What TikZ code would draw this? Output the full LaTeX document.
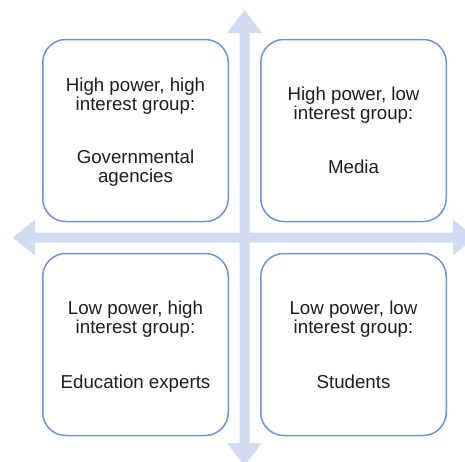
\documentclass[tikz,border=0pt]{standalone}
\usepackage{fontspec}
\setmainfont{Liberation Sans}
\definecolor{axisblue}{RGB}{208,220,239}
\definecolor{boxblue}{RGB}{112,146,220}
\definecolor{txt}{RGB}{30,30,30}
\begin{document}
\begin{tikzpicture}[x=1pt,y=-1pt,
  quad/.style={draw=boxblue,line width=1.5pt,fill=white,rounded corners=23pt,
    minimum width=185.5pt,minimum height=182pt,inner sep=0pt},
  lbl/.style={anchor=base,inner sep=0pt,text=txt,font=\fontsize{18.7}{20}\selectfont}]
\useasboundingbox (0,0) rectangle (465,461);
% axes
\fill[axisblue] (239.5,33) -- (227,33) -- (244.5,10) -- (262,33) -- (249.5,33)
  -- (249.5,443) -- (262,443) -- (244.5,466) -- (227,443) -- (239.5,443) -- cycle;
\fill[axisblue] (35,232.5) -- (35,219.5) -- (12.7,237.5) -- (35,255.5) -- (35,242.5)
  -- (453,242.5) -- (453,255.5) -- (475,237.5) -- (453,219.5) -- (453,232.5) -- cycle;
% quadrants
\node[quad] (tl) at (135.5,130.5) {};
\node[quad] (tr) at (353.5,130.5) {};
\node[quad] (bl) at (135.5,344.5) {};
\node[quad] (br) at (353.5,344.5) {};
% texts
\node[lbl] (tl1) at (135.5,91) {High power, high};
\node[lbl] (tl2) at (135.5,110) {interest group:};
\node[lbl] (tl3) at (135.5,163) {Governmental};
\node[lbl] (tl4) at (135.5,182.5) {agencies};
\node[lbl] (tr1) at (353.5,100) {High power, low};
\node[lbl] (tr2) at (353.5,119.5) {interest group:};
\node[lbl] (tr3) at (353.5,173) {Media};
\node[lbl] (bl1) at (135.5,314) {Low power, high};
\node[lbl] (bl2) at (135.5,333.5) {interest group:};
\node[lbl] (bl3) at (135.5,388) {Education experts};
\node[lbl] (br1) at (353.5,314) {Low power, low};
\node[lbl] (br2) at (353.5,333.5) {interest group:};
\node[lbl] (br3) at (353.5,388) {Students};
\end{tikzpicture}
\end{document}
